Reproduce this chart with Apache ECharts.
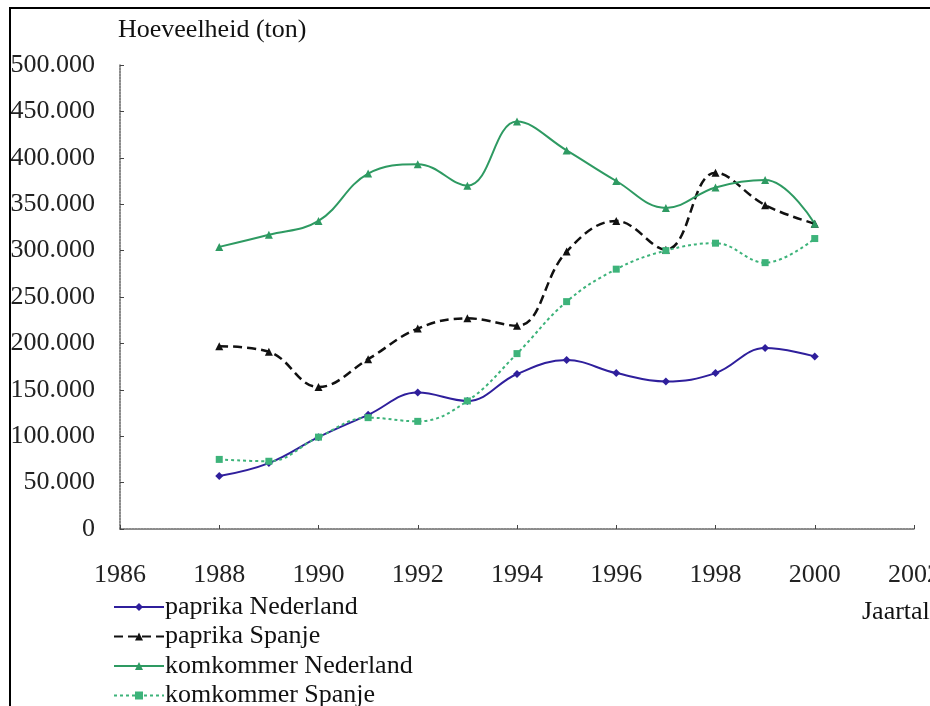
<!DOCTYPE html>
<html>
<head>
<meta charset="utf-8">
<script src="https://cdn.jsdelivr.net/npm/echarts@6/dist/echarts.min.js"></script>
<style>
  html, body { margin: 0; padding: 0; background: #fff; }
  #chart { width: 930px; height: 706px; }
</style>
</head>
<body>
<div id="chart"></div>
<script>
// Hoeveelheid (ton) per jaar, 1988-2000
var years = [1988, 1989, 1990, 1991, 1992, 1993, 1994, 1995, 1996, 1997, 1998, 1999, 2000];
var paprikaNL = [57000, 71000, 99000, 123000, 147000, 138000, 167000, 182000, 168000, 159000, 168000, 195000, 186000];
var paprikaES = [197000, 191000, 153000, 183000, 216000, 227000, 219000, 299000, 332000, 301000, 384000, 349000, 329000];
var komkommerNL = [304000, 317000, 332000, 383000, 393000, 370000, 439000, 408000, 375000, 346000, 368000, 376000, 329000];
var komkommerES = [75000, 73000, 99000, 120000, 116000, 138000, 189000, 245000, 280000, 300000, 308000, 287000, 313000];

var seriesNames = ['paprika Nederland', 'paprika Spanje', 'komkommer Nederland', 'komkommer Spanje'];

function pairs(values) {
  return years.map(function (y, i) { return [y, values[i]]; });
}

var font = '"Liberation Serif", "DejaVu Serif", serif';

var chart = echarts.init(document.getElementById('chart'));

var option = {
  animation: false,
  textStyle: { fontFamily: font },
  title: [
    {
      text: 'Hoeveelheid (ton)',
      left: 113,
      top: 12,
      textStyle: { fontFamily: font, fontSize: 26, fontWeight: 'normal', color: '#111' }
    },
    {
      text: 'Jaartal',
      left: 857,
      top: 594,
      textStyle: { fontFamily: font, fontSize: 26, fontWeight: 'normal', color: '#111' }
    }
  ],
  legend: {
    orient: 'vertical',
    left: 113,
    top: 594,
    height: 160,
    itemWidth: 50,
    itemHeight: 10,
    itemGap: 3.5,
    padding: 0,
    data: seriesNames,
    textStyle: { fontFamily: font, fontSize: 26, color: '#111', padding: [0, 0, 0, -4] }
  },
  grid: {
    left: 120,
    right: 16,
    top: 65,
    bottom: 177,
    outerBoundsMode: 'none',
    containLabel: false
  },
  xAxis: {
    type: 'value',
    min: 1986,
    max: 2002,
    interval: 2,
    splitLine: { show: false },
    axisLine: { lineStyle: { color: '#666', width: 1.5, type: [2, 1] } },
    axisTick: { inside: true, length: 4, lineStyle: { color: '#444' } },
    axisLabel: {
      margin: 33,
      fontFamily: font,
      fontSize: 26,
      color: '#222',
      formatter: function (v) { return String(v); }
    }
  },
  yAxis: {
    type: 'value',
    min: 0,
    max: 500000,
    interval: 50000,
    splitLine: { show: false },
    axisLine: { show: true, lineStyle: { color: '#666', width: 1.5, type: [2, 1] } },
    axisTick: { show: true, inside: true, length: 4, lineStyle: { color: '#444' } },
    axisLabel: {
      margin: 25,
      fontFamily: font,
      fontSize: 26,
      color: '#222',
      formatter: function (v) { return v === 0 ? '0' : (v / 1000) + '.000'; }
    }
  },
  graphic: [
    {
      type: 'rect',
      shape: { x: 10, y: 8, width: 960, height: 740 },
      style: { fill: null, stroke: '#000', lineWidth: 2 },
      silent: true,
      z: 100
    }
  ],
  series: [
    {
      name: seriesNames[0],
      type: 'line',
      smooth: 0.4,
      data: pairs(paprikaNL),
      symbol: 'diamond',
      symbolSize: 8,
      color: '#2f1f9c',
      lineStyle: { width: 2, color: '#2f1f9c' },
      itemStyle: { color: '#2f1f9c' }
    },
    {
      name: seriesNames[1],
      type: 'line',
      smooth: 0.4,
      data: pairs(paprikaES),
      symbol: 'triangle',
      symbolSize: 8,
      color: '#111',
      lineStyle: { width: 2.5, color: '#111', type: [9, 5] },
      itemStyle: { color: '#111' }
    },
    {
      name: seriesNames[2],
      type: 'line',
      smooth: 0.4,
      data: pairs(komkommerNL),
      symbol: 'triangle',
      symbolSize: 8,
      color: '#2e9a62',
      lineStyle: { width: 2, color: '#2e9a62' },
      itemStyle: { color: '#2e9a62' }
    },
    {
      name: seriesNames[3],
      type: 'line',
      smooth: 0.4,
      data: pairs(komkommerES),
      symbol: 'rect',
      symbolSize: 7,
      color: '#3db37a',
      lineStyle: { width: 2, color: '#3db37a', type: [3, 3] },
      itemStyle: { color: '#3db37a' }
    }
  ]
};

chart.setOption(option);
</script>
</body>
</html>
